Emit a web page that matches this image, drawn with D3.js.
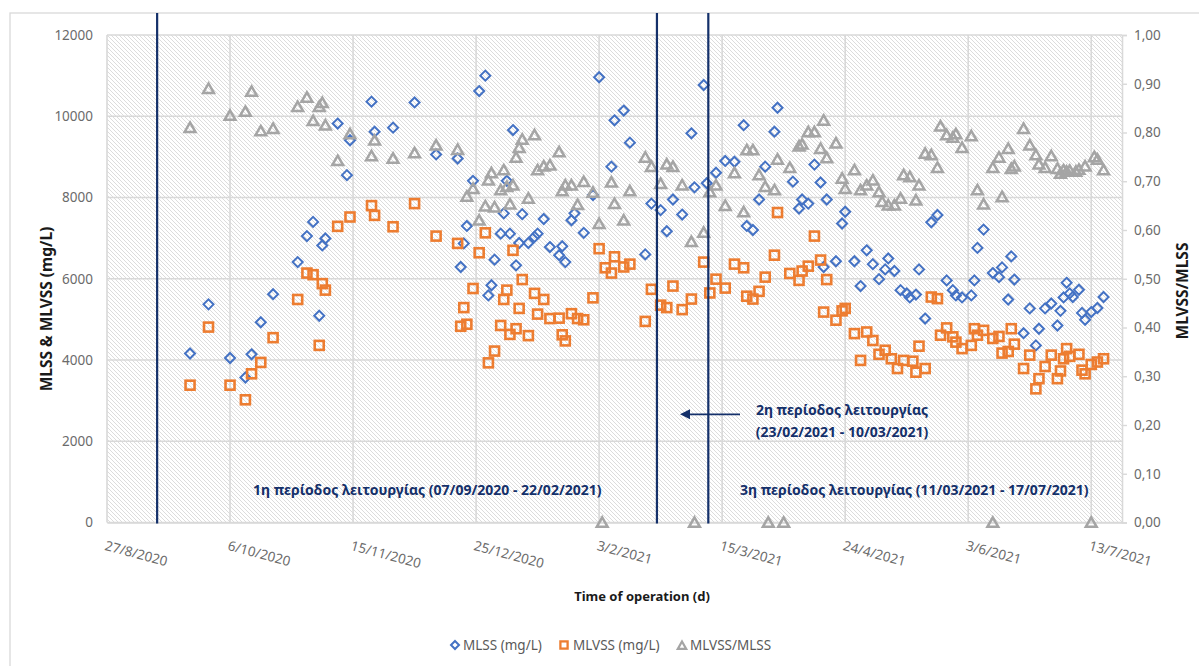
<!DOCTYPE html>
<html>
<head>
<meta charset="utf-8">
<script src="https://cdn.jsdelivr.net/npm/d3@7"></script>
<style>
  body { margin: 0; background: #fff; }
  svg { display: block; }
  text { font-family: "Noto Sans", "Open Sans", sans-serif; }
</style>
</head>
<body>
<svg id="chart" width="1199" height="666"></svg>
<script>
// Axis range and ticks
const axisStart = "2020-08-27";
const axisEnd = "2021-07-23";
const xTickDates = ["2020-08-27", "2020-10-06", "2020-11-15", "2020-12-25", "2021-02-03",
                    "2021-03-15", "2021-04-24", "2021-06-03", "2021-07-13"];
const leftTicks = [0, 2000, 4000, 6000, 8000, 10000, 12000];
const rightTicks = [0, 0.1, 0.2, 0.3, 0.4, 0.5, 0.6, 0.7, 0.8, 0.9, 1.0];

// Samples: [day counted from 27/8/2020, value]
const mlss = [[27,4160],[33,5370],[40,4050],[45,3570],[47,4140],[50,4930],[54,5620],[62,6410],[65,7050],[67,7400],
  [69,5090],[70,6820],[71,6990],[75,9820],[78,8550],[79,9410],[86,10360],[87,9620],[93,9720],[100,10340],
  [107,9060],[114,8960],[115,6290],[116,6870],[117,7300],[119,8410],[121,10620],[123,11000],[124,5590],[125,5840],
  [126,6470],[128,7110],[129,7610],[130,8410],[131,7110],[132,9660],[133,6330],[134,6880],[135,7590],[137,6880],
  [139,7030],[140,7110],[142,7470],[144,6780],[147,6580],[148,6800],[149,6410],[151,7440],[152,7610],[155,7130],
  [158,8060],[160,10960],[164,8760],[165,9900],[168,10140],[170,9350],[175,6600],[177,7850],[180,7690],[182,7170],
  [184,7950],[187,7580],[190,9580],[191,8250],[194,10770],[195,8350],[198,8610],[201,8900],[204,8880],[207,9780],
  [208,7300],[210,7200],[212,7950],[214,8760],[217,9620],[218,10210],[223,8390],[225,7730],[226,7950],[228,7850],
  [230,8810],[232,8370],[233,6290],[234,7950],[237,6430],[239,7360],[240,7650],[243,6430],[245,5820],[247,6700],
  [249,6360],[251,5990],[253,6230],[254,6500],[256,6190],[258,5720],[260,5640],[261,5540],[263,5610],[264,6230],
  [266,5020],[268,7390],[270,7570],[273,5960],[275,5720],[276,5590],[278,5540],[281,5590],[282,5960],[283,6760],
  [285,7210],[288,6140],[290,6040],[291,6280],[293,5490],[294,6550],[295,5980],[298,4660],[300,5270],[302,4360],
  [303,4770],[305,5270],[307,5390],[309,4850],[310,5210],[311,5540],[312,5900],[313,5640],[314,5550],[316,5730],
  [317,5160],[318,4990],[320,5180],[322,5280],[324,5550]];

const mlvss = [[27,3380],[33,4810],[40,3380],[45,3020],[47,3660],[50,3940],[54,4550],[62,5490],[65,6140],[67,6100],
  [69,4360],[70,5880],[71,5720],[75,7290],[79,7520],[86,7800],[87,7560],[93,7280],[100,7850],[107,7050],
  [114,6870],[115,4830],[116,5290],[117,4880],[119,5760],[121,6640],[123,7130],[124,3930],[126,4220],[128,4850],
  [129,5490],[130,5720],[131,4630],[132,6700],[133,4770],[134,5270],[135,5980],[137,4600],[139,5640],[140,5130],
  [142,5490],[144,5020],[147,5030],[148,4620],[149,4470],[151,5140],[153,5020],[155,4990],[158,5530],[160,6740],
  [162,6270],[164,6140],[165,6540],[168,6290],[170,6360],[175,4950],[177,5740],[180,5350],[182,5290],[184,5820],
  [187,5240],[190,5500],[194,6410],[196,5650],[198,5990],[201,5770],[204,6360],[207,6270],[208,5570],[210,5500],
  [212,5690],[214,6040],[217,6580],[218,7630],[222,6130],[225,5960],[226,6190],[228,6310],[230,7050],[232,6460],
  [233,5180],[234,5980],[237,4980],[239,5210],[240,5270],[243,4650],[245,3990],[247,4690],[249,4480],[251,4140],
  [253,4240],[255,4030],[257,3790],[259,3990],[262,3970],[263,3700],[264,4340],[266,3790],[268,5550],[270,5510],
  [271,4610],[273,4790],[275,4570],[276,4440],[278,4280],[281,4360],[282,4770],[283,4610],[285,4730],[288,4530],
  [290,4580],[291,4170],[293,4210],[294,4770],[295,4390],[298,3790],[300,4120],[302,3290],[303,3540],[305,3840],
  [307,4120],[309,3540],[310,3730],[311,4030],[312,4280],[313,4090],[316,4140],[317,3750],[318,3660],[320,3890],
  [322,3950],[324,4030]];

const ratio = [[27,0.81],[33,0.89],[40,0.835],[45,0.843],[47,0.884],[50,0.803],[54,0.808],[62,0.853],[65,0.872],[67,0.824],
  [69,0.853],[70,0.861],[71,0.815],[75,0.742],[79,0.797],[86,0.752],[87,0.784],[93,0.747],[100,0.758],[107,0.774],
  [114,0.765],[117,0.669],[119,0.685],[121,0.62],[123,0.649],[124,0.702],[125,0.717],[126,0.647],[128,0.682],[129,0.723],
  [130,0.689],[131,0.653],[132,0.692],[133,0.749],[134,0.769],[135,0.786],[137,0.665],[139,0.795],[140,0.723],[142,0.731],
  [144,0.733],[147,0.76],[148,0.68],[149,0.692],[151,0.692],[153,0.652],[155,0.699],[158,0.677],[160,0.613],[161,0],
  [164,0.698],[165,0.654],[168,0.62],[170,0.68],[175,0.749],[177,0.73],[180,0.695],[182,0.735],[184,0.73],[187,0.692],
  [190,0.576],[191,0],[194,0.595],[196,0.678],[198,0.692],[201,0.65],[204,0.717],[207,0.637],[208,0.764],[210,0.764],
  [212,0.713],[214,0.689],[215,0],[217,0.682],[218,0.745],[220,0],[222,0.728],[225,0.772],[226,0.776],[228,0.801],
  [230,0.801],[232,0.767],[233,0.825],[234,0.748],[237,0.778],[239,0.706],[240,0.685],[243,0.723],[245,0.682],[247,0.692],
  [249,0.702],[251,0.678],[252,0.658],[254,0.651],[256,0.651],[258,0.665],[259,0.713],[261,0.709],[263,0.661],[264,0.692],
  [266,0.757],[268,0.754],[270,0.728],[271,0.813],[273,0.795],[275,0.79],[276,0.797],[278,0.769],[281,0.793],[283,0.682],
  [285,0.653],[288,0.728],[288,0],[290,0.749],[291,0.668],[293,0.767],[294,0.726],[295,0.731],[298,0.808],[300,0.774],
  [302,0.754],[303,0.735],[305,0.728],[307,0.752],[309,0.726],[310,0.716],[311,0.723],[312,0.72],[313,0.722],[315,0.72],
  [316,0.724],[318,0.731],[320,0],[321,0.75],[322,0.745],[324,0.723]];

// Boundaries between the operating periods (days from 27/8/2020)
const periodBoundaries = [16.3, 178.8, 195.5];

const seriesNames = ["MLSS (mg/L)", "MLVSS (mg/L)", "MLVSS/MLSS"];
const periodLabels = [
  "1η περίοδος λειτουργίας (07/09/2020 - 22/02/2021)",
  "2η περίοδος λειτουργίας",
  "(23/02/2021 - 10/03/2021)",
  "3η περίοδος λειτουργίας (11/03/2021 - 17/07/2021)"
];

// ---------------------------------------------------------------
const svg = d3.select("#chart");
const plot = { left: 107, right: 1122, top: 35, bottom: 522.5 };
const parse = d3.utcParse("%Y-%m-%d");
const t0 = parse(axisStart);
const dayToDate = d => new Date(t0.getTime() + d * 864e5);

const x = d3.scaleUtc().domain([t0, parse(axisEnd)]).range([plot.left, plot.right]);
const y = d3.scaleLinear().domain([0, 12000]).range([plot.bottom, plot.top]);
const y2 = d3.scaleLinear().domain([0, 1]).range([plot.bottom, plot.top]);

const colors = { mlss: "#4472C4", mlvss: "#ED7D31", ratio: "#A5A5A5", navy: "#14306A",
                 grid: "#d9d9d9", tick: "#6b6b6b" };
const comma = d3.formatLocale({ decimal: ",", thousands: ".", grouping: [3], currency: ["", ""] });

// chart border
svg.append("rect").attr("x", 10).attr("y", 13).attr("width", 1220).attr("height", 700)
  .attr("fill", "#fff").attr("stroke", "#d9d9d9").attr("stroke-width", 1.3);

// hatched plot background
const pat = svg.append("defs").append("pattern").attr("id", "hatch")
  .attr("patternUnits", "userSpaceOnUse").attr("width", 4).attr("height", 4);
pat.append("rect").attr("width", 4).attr("height", 4).attr("fill", "#fff");
pat.append("path").attr("d", "M-1,-1L5,5M-1,3L1,5M3,-1L5,1")
  .attr("stroke", "#d6d6d6").attr("stroke-width", 0.85);

svg.append("rect").attr("x", plot.left).attr("y", plot.top)
  .attr("width", plot.right - plot.left).attr("height", plot.bottom - plot.top)
  .attr("fill", "url(#hatch)");

// gridlines
const grid = svg.append("g").attr("stroke", colors.grid).attr("stroke-width", 1.6);
grid.selectAll(".h").data(leftTicks).join("line")
  .attr("x1", plot.left).attr("x2", plot.right)
  .attr("y1", d => y(d)).attr("y2", d => y(d));
grid.selectAll(".v").data(xTickDates).join("line")
  .attr("x1", d => x(parse(d))).attr("x2", d => x(parse(d)))
  .attr("y1", plot.top).attr("y2", plot.bottom);

// left axis
const gl = svg.append("g").attr("transform", `translate(${plot.left},0)`)
  .call(d3.axisLeft(y).tickValues(leftTicks).tickSize(0).tickPadding(14).tickFormat(d3.format("d")));
gl.select(".domain").remove();
gl.selectAll("text").attr("fill", colors.tick).style("font-size", "13.5px");

// right axis
const gr = svg.append("g").attr("transform", `translate(${plot.right},0)`)
  .call(d3.axisRight(y2).tickValues(rightTicks).tickSize(5).tickPadding(7).tickFormat(comma.format(".2f")));
gr.select(".domain").attr("stroke", colors.grid).attr("stroke-width", 1.6);
gr.selectAll(".tick line").attr("stroke", colors.grid).attr("stroke-width", 1.4);
gr.selectAll("text").attr("fill", colors.tick).style("font-size", "13.5px");

// bottom axis with slanted date labels
const dateFmt = d3.utcFormat("%-d/%-m/%Y");
const gb = svg.append("g").attr("transform", `translate(0,${plot.bottom})`)
  .call(d3.axisBottom(x).tickValues(xTickDates.map(parse)).tickSize(0).tickFormat(dateFmt));
gb.select(".domain").attr("stroke", colors.grid).attr("stroke-width", 1.6);
gb.selectAll("text").attr("fill", colors.tick).style("font-size", "13.5px")
  .attr("text-anchor", "start").attr("x", 0).attr("y", 0).attr("dy", "0.71em")
  .attr("transform", "translate(-1,18) rotate(15)");

// axis titles
svg.append("text").attr("transform", "translate(47,309) rotate(-90)")
  .attr("text-anchor", "middle").attr("dy", "0.35em")
  .style("font-size", "15.5px").style("font-weight", "bold").attr("fill", "#1a1a1a")
  .text("MLSS & MLVSS (mg/L)");
svg.append("text").attr("transform", "translate(1183,291) rotate(-90)")
  .attr("text-anchor", "middle").attr("dy", "0.35em")
  .style("font-size", "15.5px").style("font-weight", "bold").attr("fill", "#1a1a1a")
  .text("MLVSS/MLSS");
svg.append("text").attr("x", 642).attr("y", 601).attr("text-anchor", "middle")
  .style("font-size", "13px").style("font-weight", "bold").attr("fill", "#1a1a1a")
  .text("Time of operation (d)");

// marker shapes
const diamondPath = r => `M0,${-r}L${r},0L0,${r}L${-r},0Z`;
const trianglePath = s => `M0,${-s * 0.95}L${s},${s * 0.8}L${-s},${s * 0.8}Z`;

// MLSS
svg.append("g").selectAll("path").data(mlss).join("path")
  .attr("transform", d => `translate(${x(dayToDate(d[0]))},${y(d[1])})`)
  .attr("d", diamondPath(5))
  .attr("fill", "none").attr("stroke", colors.mlss).attr("stroke-width", 2);

// MLVSS
svg.append("g").selectAll("rect").data(mlvss).join("rect")
  .attr("x", d => x(dayToDate(d[0])) - 4.5).attr("y", d => y(d[1]) - 4.5)
  .attr("width", 9).attr("height", 9)
  .attr("fill", "none").attr("stroke", colors.mlvss).attr("stroke-width", 2.6);

// MLVSS/MLSS on the secondary axis
svg.append("g").selectAll("path").data(ratio).join("path")
  .attr("transform", d => `translate(${x(dayToDate(d[0]))},${y2(d[1])})`)
  .attr("d", trianglePath(5.4))
  .attr("fill", "none").attr("stroke", colors.ratio).attr("stroke-width", 2.5)
  .attr("stroke-linejoin", "miter");

// period boundary lines
svg.append("g").selectAll("line").data(periodBoundaries).join("line")
  .attr("x1", d => x(dayToDate(d))).attr("x2", d => x(dayToDate(d)))
  .attr("y1", 13).attr("y2", plot.bottom + 1)
  .attr("stroke", colors.navy).attr("stroke-width", 2.2);

// period annotations
const ann = svg.append("g").attr("fill", colors.navy)
  .style("font-size", "14px").style("font-weight", "bold");
ann.append("text").attr("x", 253).attr("y", 495).text(periodLabels[0]);
ann.append("text").attr("x", 842).attr("y", 415).attr("text-anchor", "middle").text(periodLabels[1]);
ann.append("text").attr("x", 842).attr("y", 437).attr("text-anchor", "middle").text(periodLabels[2]);
ann.append("text").attr("x", 740).attr("y", 495).text(periodLabels[3]);

// arrow pointing into the short second period
svg.append("line").attr("x1", 740).attr("x2", 688).attr("y1", 414.3).attr("y2", 414.3)
  .attr("stroke", colors.navy).attr("stroke-width", 1.8);
svg.append("path").attr("d", "M680,414.3L690,409.3L690,419.3Z").attr("fill", colors.navy);

// legend
const legendY = 645;
const leg = svg.append("g");
const items = [
  { name: seriesNames[0], mx: 455, tx: 463, kind: "diamond" },
  { name: seriesNames[1], mx: 564, tx: 573, kind: "square" },
  { name: seriesNames[2], mx: 682, tx: 690, kind: "triangle" }
];
items.forEach(it => {
  if (it.kind === "diamond") {
    leg.append("path").attr("transform", `translate(${it.mx},${legendY})`).attr("d", diamondPath(4))
      .attr("fill", "none").attr("stroke", colors.mlss).attr("stroke-width", 2);
  } else if (it.kind === "square") {
    leg.append("rect").attr("x", it.mx - 3.6).attr("y", legendY - 3.6).attr("width", 7.2).attr("height", 7.2)
      .attr("fill", "none").attr("stroke", colors.mlvss).attr("stroke-width", 2.3);
  } else {
    leg.append("path").attr("transform", `translate(${it.mx},${legendY + 0.5})`).attr("d", trianglePath(4.2))
      .attr("fill", "none").attr("stroke", colors.ratio).attr("stroke-width", 2.2);
  }
  leg.append("text").attr("x", it.tx).attr("y", legendY).attr("dy", "0.35em")
    .style("font-size", "13.5px").attr("fill", "#595959").text(it.name);
});
</script>
</body>
</html>
